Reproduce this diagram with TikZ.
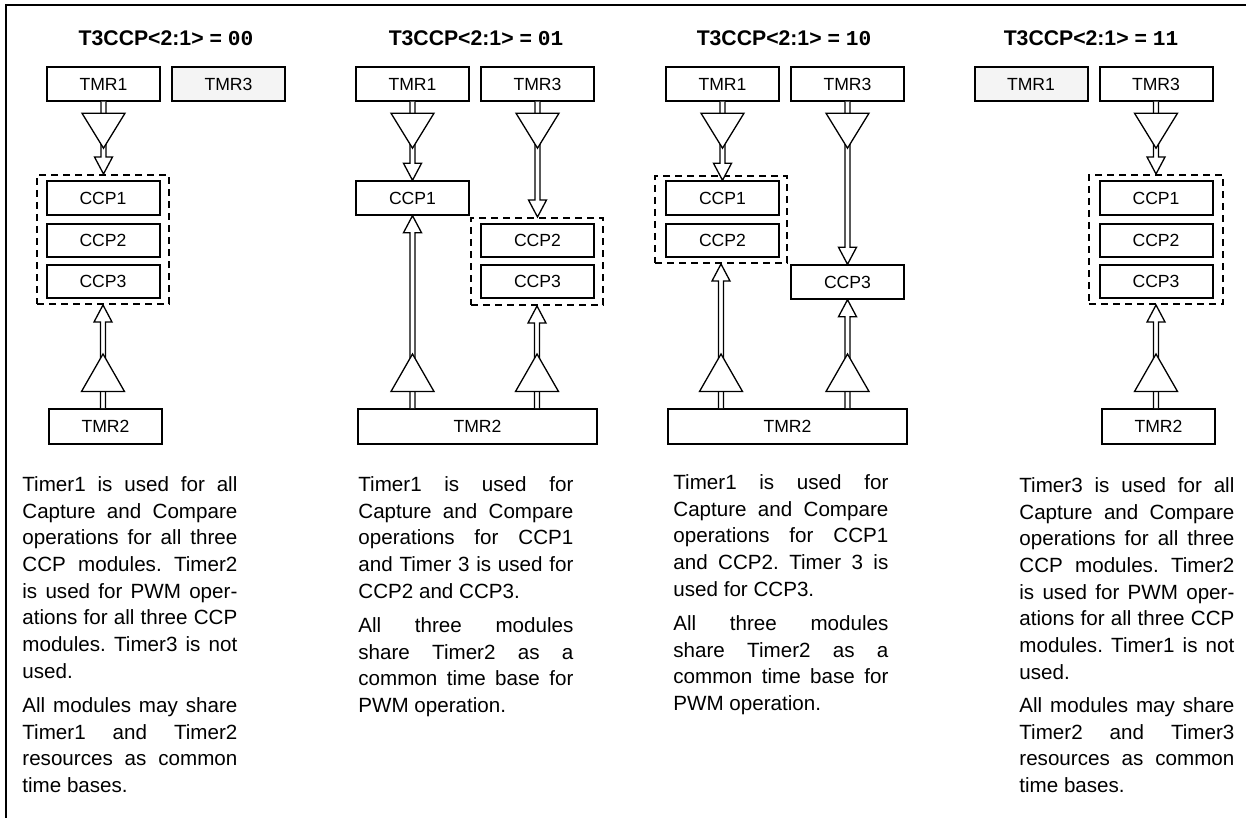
\documentclass[tikz,border=0pt]{standalone}
\usepackage{fontspec}
\setmainfont{Liberation Sans}
\newfontfamily\monob{Liberation Mono}
\usetikzlibrary{calc}
\newcommand\bodyfont{\fontsize{10.3}{13.35}\selectfont\frenchspacing\tolerance=10000\relax\hbadness=10000\relax\hyphenpenalty=10000\relax}
\tikzset{
 box/.style={draw, line width=1pt, minimum width=56.5pt, minimum height=16.7pt, inner sep=0pt, font=\fontsize{8.8}{10}\selectfont},
 unused/.style={box, fill=gray!9},
 wide/.style={box, minimum width=119.5pt},
 grp/.style={draw, line width=1pt, dash pattern=on 3.5pt off 2.5pt, inner sep=0pt},
 ttl/.style={inner sep=0pt, font=\fontsize{10.6}{12}\selectfont\bfseries},
 body/.style={anchor=north west, inner sep=0pt, text width=107.5pt, align=justify, font=\bodyfont},
 conn/.style={draw, line width=0.65pt, fill=white, line join=miter},
}
\newcommand\dconn[2]{%
 \draw[conn] ($#1+(-2.5,0)$) -- ($#2+(-2.5,-17)$) -- ($#2+(-9,-17)$) -- #2 -- ($#2+(9,-17)$) -- ($#2+(2.5,-17)$) -- ($#1+(2.5,0)$);
 \draw[conn] ($#1+(-21.5,11.5)$) -- ($#1+(21.5,11.5)$) -- ($#1+(0,46.5)$) -- cycle;}
\newcommand\uconn[2]{%
 \draw[conn] ($#1+(-2.5,0)$) -- ($#2+(-2.5,17)$) -- ($#2+(-9,17)$) -- #2 -- ($#2+(9,17)$) -- ($#2+(2.5,17)$) -- ($#1+(2.5,0)$);
 \draw[conn] ($#1+(-21.5,-16.5)$) -- ($#1+(21.5,-16.5)$) -- ($#1+(0,-54)$) -- cycle;}
\begin{document}
\begin{tikzpicture}[x=0.5pt,y=-0.5pt]
\useasboundingbox (0,0) rectangle (1246,818);
\draw[line width=1pt] (6,830) -- (6,5) -- (1260,5);

% ---------- Panel A : 00
\node[ttl] (ttlA) at (166,38) {T3CCP<2:1> = {\monob\bfseries 00}};
\node[box] (tmrA1) at (103.5,84) {TMR1};
\node[unused] (tmrA3) at (228.5,84) {TMR3};
\node[grp, minimum width=66pt, minimum height=64.5pt] (gA) at (103,239.5) {};
\node[box] (ccpA1) at (103,198) {CCP1};
\node[box] (ccpA2) at (103,240.5) {CCP2};
\node[box] (ccpA3) at (103,281.5) {CCP3};
\node[box, minimum height=17.5pt] (tmrA2) at (105.5,426.5) {TMR2};
\coordinate (eA1) at (gA.north -| tmrA1.south);
\coordinate (sA2) at (tmrA2.north -| gA.south);
\dconn{(tmrA1.south)}{(eA1)}
\uconn{(sA2)}{(gA.south)}
\node[body] (tA1) at (22,476) {Timer1 is used for all\linebreak Capture and Compare\linebreak operations for all three\linebreak CCP modules. Timer2\linebreak is used for PWM oper-\linebreak ations for all three CCP\linebreak modules. Timer3 is not\linebreak used.};
\node[body] (tA2) at (22,697) {All modules may share\linebreak Timer1 and Timer2\linebreak resources as common\linebreak time bases.};

% ---------- Panel B : 01
\node[ttl] (ttlB) at (476,38) {T3CCP<2:1> = {\monob\bfseries 01}};
\node[box] (tmrB1) at (412.5,84) {TMR1};
\node[box] (tmrB3) at (537.5,84) {TMR3};
\node[box] (ccpB1) at (412.5,198) {CCP1};
\node[grp, minimum width=66pt, minimum height=43.5pt] (gB) at (537,261.5) {};
\node[box] (ccpB2) at (537.5,240.5) {CCP2};
\node[box] (ccpB3) at (537.5,281.5) {CCP3};
\node[wide, minimum height=17.5pt] (tmrB2) at (477.5,426.5) {TMR2};
\coordinate (eB3) at (gB.north -| tmrB3.south);
\coordinate (sB1) at (tmrB2.north -| ccpB1.south);
\coordinate (sB2) at (tmrB2.north -| gB.south);
\dconn{(tmrB1.south)}{(ccpB1.north)}
\dconn{(tmrB3.south)}{(eB3)}
\uconn{(sB1)}{(ccpB1.south)}
\uconn{(sB2)}{(gB.south)}
\node[body] (tB1) at (358,476) {Timer1 is used for\linebreak Capture and Compare\linebreak operations for CCP1\linebreak and Timer 3 is used for\linebreak CCP2 and CCP3.};
\node[body] (tB2) at (358,617) {All three modules\linebreak share Timer2 as a\linebreak common time base for\linebreak PWM operation.};

% ---------- Panel C : 10
\node[ttl] (ttlC) at (784,38) {T3CCP<2:1> = {\monob\bfseries 10}};
\node[box] (tmrC1) at (722.5,84) {TMR1};
\node[box] (tmrC3) at (847.5,84) {TMR3};
\node[grp, minimum width=66pt, minimum height=43.5pt] (gC) at (721,219.5) {};
\node[box] (ccpC1) at (722.5,198) {CCP1};
\node[box] (ccpC2) at (722.5,240.5) {CCP2};
\node[box] (ccpC3) at (847.5,282) {CCP3};
\node[wide, minimum height=17.5pt] (tmrC2) at (787.5,426.5) {TMR2};
\coordinate (sC1) at (tmrC2.north -| gC.south);
\coordinate (sC3) at (tmrC2.north -| ccpC3.south);
\dconn{(tmrC1.south)}{(ccpC1.north)}
\dconn{(tmrC3.south)}{(ccpC3.north)}
\uconn{(sC1)}{(gC.south)}
\uconn{(sC3)}{(ccpC3.south)}
\node[body] (tC1) at (673,474) {Timer1 is used for\linebreak Capture and Compare\linebreak operations for CCP1\linebreak and CCP2. Timer 3 is\linebreak used for CCP3.};
\node[body] (tC2) at (673,615) {All three modules\linebreak share Timer2 as a\linebreak common time base for\linebreak PWM operation.};

% ---------- Panel D : 11
\node[ttl] (ttlD) at (1091,38) {T3CCP<2:1> = {\monob\bfseries 11}};
\node[unused] (tmrD1) at (1031,84) {TMR1};
\node[box] (tmrD3) at (1156,84) {TMR3};
\node[grp, minimum width=67pt, minimum height=64.5pt] (gD) at (1156,239.5) {};
\node[box] (ccpD1) at (1156,198) {CCP1};
\node[box] (ccpD2) at (1156,240.5) {CCP2};
\node[box] (ccpD3) at (1156,281.5) {CCP3};
\node[box, minimum height=17.5pt] (tmrD2) at (1158.5,426.5) {TMR2};
\coordinate (eD3) at (gD.north -| tmrD3.south);
\coordinate (sD2) at (tmrD2.north -| gD.south);
\dconn{(tmrD3.south)}{(eD3)}
\uconn{(sD2)}{(gD.south)}
\node[body] (tD1) at (1019,477) {Timer3 is used for all\linebreak Capture and Compare\linebreak operations for all three\linebreak CCP modules. Timer2\linebreak is used for PWM oper-\linebreak ations for all three CCP\linebreak modules. Timer1 is not\linebreak used.};
\node[body] (tD2) at (1019,697) {All modules may share\linebreak Timer2 and Timer3\linebreak resources as common\linebreak time bases.};
\end{tikzpicture}
\end{document}
